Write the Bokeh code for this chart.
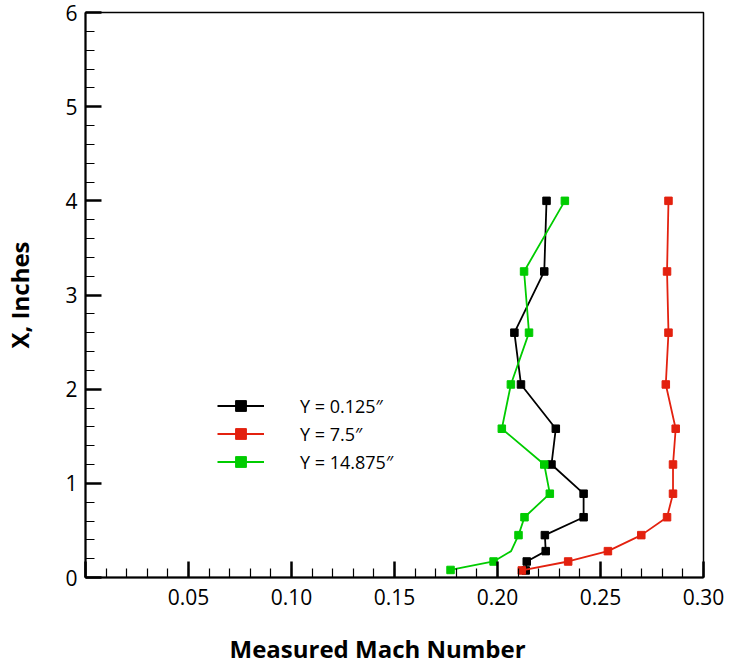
from bokeh.plotting import figure
from bokeh.models import Range1d, FixedTicker, Legend, LegendItem, Title, LinearAxis
from bokeh.embed import file_html
from bokeh.resources import INLINE

# Station positions (X, inches) shared by all traverses
x_inches = [4.0, 3.25, 2.6, 2.05, 1.58, 1.2, 0.89, 0.64, 0.45, 0.28, 0.17, 0.075]

# Measured Mach number for each spanwise location
mach_y0125 = [0.2238, 0.2227, 0.2082, 0.2114, 0.2283, 0.2262, 0.2418, 0.2418,
              0.2230, 0.2234, 0.2142, 0.2137]
mach_y75 = [0.2830, 0.2823, 0.2830, 0.2817, 0.2865, 0.2852, 0.2852, 0.2823,
            0.2698, 0.2536, 0.2343, 0.2118]
green_x_inches = [4.0, 3.25, 2.6, 2.05, 1.58, 1.2, 0.89, 0.64, 0.45, 0.28, 0.17, 0.08]
mach_y14875 = [0.2327, 0.2129, 0.2153, 0.2065, 0.2021, 0.2227, 0.2254, 0.2131,
               0.2102, 0.2066, 0.1981, 0.1772]
# the green trace has no symbol at the 0.28 in. station
green_has_symbol = [True, True, True, True, True, True, True, True,
                    True, False, True, True]

series_labels = ["Y = 0.125\u2033", "Y = 7.5\u2033", "Y = 14.875\u2033"]

x_major_ticks = [0.0, 0.05, 0.10, 0.15, 0.20, 0.25, 0.30]
x_minor_ticks = [round(0.01 * i, 2) for i in range(31)]
y_major_ticks = [0, 1, 2, 3, 4, 5, 6]
y_minor_ticks = [round(0.2 * i, 1) for i in range(31)]

BLACK = "#000000"
RED = "#e3210f"
GREEN = "#00cc00"
FONT = "Open Sans"

p = figure(width=736, height=665, output_backend="svg", toolbar_location=None,
           x_range=Range1d(0, 0.30), y_range=Range1d(0, 6),
           min_border_left=81, min_border_right=33, min_border_top=12,
           min_border_bottom=88)
p.grid.visible = False
p.outline_line_color = "#000000"
p.outline_line_width = 1.5
p.background_fill_color = "white"
p.border_fill_color = "white"

# axes
for ax in (p.xaxis[0], p.yaxis[0]):
    ax.axis_line_width = 2
    ax.major_tick_in = 16
    ax.major_tick_out = 0
    ax.minor_tick_in = 9
    ax.minor_tick_out = 0
    ax.major_tick_line_width = 2.5
    ax.minor_tick_line_width = 1.2
    ax.major_label_text_font = FONT
    ax.major_label_text_font_size = "21px"
    ax.major_label_text_color = "black"
    ax.axis_label_text_font = FONT
    ax.axis_label_text_font_style = "bold"
    ax.axis_label_text_font_size = "24px"
    ax.axis_label_text_color = "black"

p.xaxis.ticker = FixedTicker(ticks=x_major_ticks, minor_ticks=x_minor_ticks)
p.xaxis.major_label_overrides = {0.0: "", 0.05: "0.05", 0.10: "0.10", 0.15: "0.15",
                                 0.20: "0.20", 0.25: "0.25", 0.30: "0.30"}
p.xaxis.major_label_standoff = 11

# invisible (white-on-white) spacer between the tick labels and the x-axis title
spacer = LinearAxis(ticker=FixedTicker(ticks=[0.15], minor_ticks=[]),
                    axis_line_color="white",
                    major_tick_line_color="white", minor_tick_line_color="white",
                    major_tick_in=0, major_tick_out=22, minor_tick_in=0,
                    minor_tick_out=0, major_label_standoff=0,
                    major_label_overrides={0.15: ""},
                    major_label_text_font_size="1px",
                    major_label_text_color="white")
p.add_layout(spacer, "below")

# x-axis title, left of centre as in the original
xlabel = Title(text="Measured Mach Number", align="left", offset=144,
               vertical_align="bottom",
               text_font=FONT, text_font_style="bold", text_font_size="24px",
               text_color="black", standoff=0)
p.add_layout(xlabel, "below")

p.yaxis.ticker = FixedTicker(ticks=y_major_ticks, minor_ticks=y_minor_ticks)
p.yaxis.major_label_standoff = 8
p.yaxis.axis_label = "X, Inches"
p.yaxis.axis_label_standoff = 26

# data
l_blk = p.line(mach_y0125, x_inches, line_color=BLACK, line_width=1.8)
s_blk = p.scatter(mach_y0125, x_inches, marker="square", size=7.5,
                  fill_color=BLACK, line_color=BLACK)

gx = [m for m, k in zip(mach_y14875, green_has_symbol) if k]
gy = [v for v, k in zip(green_x_inches, green_has_symbol) if k]
l_grn = p.line(mach_y14875, green_x_inches, line_color=GREEN, line_width=1.8)
s_grn = p.scatter(gx, gy, marker="square", size=7.5,
                  fill_color=GREEN, line_color=GREEN)

l_red = p.line(mach_y75, x_inches, line_color=RED, line_width=1.8)
s_red = p.scatter(mach_y75, x_inches, marker="square", size=7.5,
                  fill_color=RED, line_color=RED)

legend = Legend(items=[
    LegendItem(label=series_labels[0], renderers=[l_blk, s_blk]),
    LegendItem(label=series_labels[1], renderers=[l_red, s_red]),
    LegendItem(label=series_labels[2], renderers=[l_grn, s_grn]),
], location=(132, 102))
legend.padding = 0
legend.margin = 0
legend.spacing = 1
legend.glyph_width = 47
legend.glyph_height = 27
legend.label_height = 27
legend.label_standoff = 36
legend.label_text_font = FONT
legend.label_text_font_size = "18px"
legend.label_text_color = "black"
legend.border_line_alpha = 0
legend.background_fill_alpha = 0
p.add_layout(legend, "center")

open("out.html", "w").write(file_html(p, INLINE))
